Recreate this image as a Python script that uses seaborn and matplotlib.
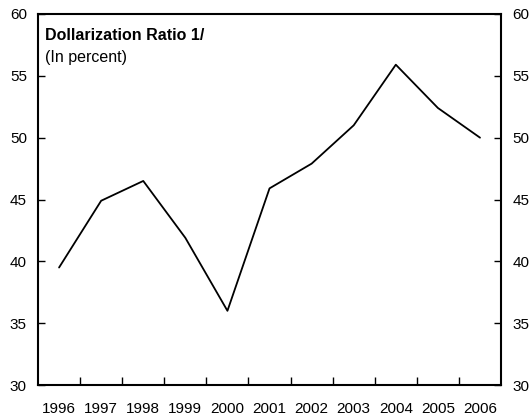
import matplotlib
matplotlib.use("Agg")
import matplotlib.pyplot as plt
import seaborn as sns
import pandas as pd

years = ["1996", "1997", "1998", "1999", "2000", "2001", "2002", "2003", "2004", "2005", "2006"]
ratio = [39.5, 44.9, 46.5, 41.9, 36.0, 45.9, 47.9, 51.0, 55.9, 52.4, 50.0]

sns.set_style("white")
plt.rcParams["font.family"] = ["Liberation Sans", "DejaVu Sans"]
plt.rcParams["text.color"] = "black"
plt.rcParams["xtick.color"] = "black"
plt.rcParams["ytick.color"] = "black"

df = pd.DataFrame({"year": years, "ratio": ratio})

fig = plt.figure(figsize=(5.31, 4.2), dpi=100)
ax = fig.add_axes([0.0716, 0.0833, 0.872, 0.8834])
sns.lineplot(data=df, x="year", y="ratio", color="black", linewidth=1.3, ax=ax)

ax.set_xlim(-0.5, len(years) - 0.5)
ax.set_ylim(30, 60)
ax.set_yticks(range(30, 61, 5))
ax.set_xticks(range(len(years)))
ax.set_xticklabels(years)
ax.set_xticks([i + 0.5 for i in range(len(years) - 1)], minor=True)
ax.set_xlabel("")
ax.set_ylabel("")

for s in ax.spines.values():
    s.set_visible(True)
    s.set_color("black")
    s.set_linewidth(1.5)

ax.tick_params(axis="y", which="major", direction="in", length=5, width=1,
               left=True, right=True, labelleft=True, labelright=True,
               labelsize=11, pad=8, colors="black")
ax.tick_params(axis="x", which="major", length=0, labelsize=11, pad=12, colors="black")
ax.tick_params(axis="x", which="minor", direction="in", length=5.5, width=1,
               bottom=True, colors="black")

ax.text(0.015, 0.943, "Dollarization Ratio 1/", transform=ax.transAxes,
        fontsize=11.5, fontweight="bold", va="center", ha="left", color="black")
ax.text(0.015, 0.882, "(In percent)", transform=ax.transAxes,
        fontsize=11.5, va="center", ha="left", color="black")

fig.savefig("out.png", dpi=100)
